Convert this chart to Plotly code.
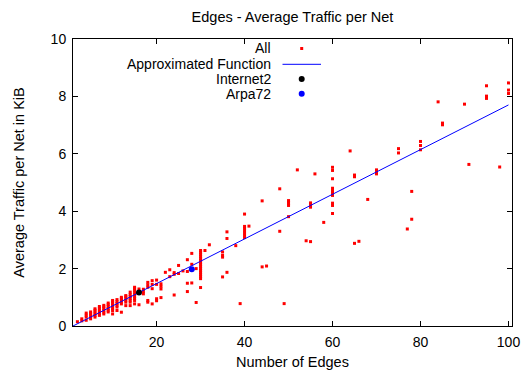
import plotly.graph_objects as go

# Measured nets: number of edges and the traffic values observed for each
edge_counts = [2, 3, 4, 5, 6, 7, 8, 9, 10, 11, 12, 13, 14, 15, 16, 17, 18, 19, 20, 21,
               22, 23, 24, 25, 26, 27, 28, 29, 30, 31, 32, 35, 36, 38, 39, 40, 41, 44, 45,
               48, 49, 50, 52, 54, 55, 56, 58, 60, 64, 65, 66, 68, 70, 75, 77, 78, 80,
               84, 85, 90, 91, 95, 98, 100]
traffic_by_edges = [
    [0.15],
    [0.18, 0.25],
    [0.2, 0.31, 0.38, 0.45],
    [0.25, 0.32, 0.38, 0.44, 0.49],
    [0.31, 0.37, 0.43, 0.49, 0.55, 0.6],
    [0.37, 0.43, 0.49, 0.56, 0.62, 0.68],
    [0.42, 0.48, 0.55, 0.61, 0.67, 0.72],
    [0.49, 0.55, 0.61, 0.68, 0.74, 0.8],
    [0.42, 0.54, 0.6, 0.66, 0.72, 0.78, 0.84, 0.89],
    [0.54, 0.66, 0.72, 0.79, 0.85, 0.92],
    [0.48, 0.77, 0.83, 0.89, 0.95, 1.0],
    [0.71, 0.83, 0.9, 0.96, 1.02, 1.06],
    [0.71, 0.83, 0.9, 0.96, 1.03, 1.1, 1.18],
    [0.77, 0.89, 0.96, 1.03, 1.1, 1.17, 1.24, 1.3, 1.35],
    [0.74, 1.29],
    [1.12, 1.2, 1.28],
    [0.83, 0.89, 1.35, 1.43, 1.52],
    [0.77, 1.3, 1.45, 1.58],
    [0.88, 0.95, 1.45, 1.6],
    [0.99, 1.29, 1.38, 1.47],
    [1.87],
    [1.72, 1.96],
    [1.08, 1.8, 1.86],
    [1.83, 2.11],
    [1.92],
    [1.2, 1.49, 1.9, 2.31],
    [1.5, 2.15, 2.53],
    [0.82, 2.0],
    [1.34, 1.65, 1.72, 1.79, 1.86, 1.93, 2.0, 2.07, 2.14, 2.21, 2.28, 2.35, 2.42,
     2.49, 2.56, 2.63],
    [2.63],
    [2.83],
    [1.71, 2.4, 2.46, 2.58],
    [1.87, 3.05, 3.28],
    [2.8],
    [0.78],
    [3.08, 3.16, 3.24, 3.32, 3.4, 3.47, 3.9],
    [3.48],
    [2.06, 4.36],
    [2.09],
    [3.3, 4.78],
    [0.78],
    [3.81, 4.2, 4.26, 4.32, 4.37],
    [5.44],
    [2.97],
    [2.94, 4.14, 4.22, 4.29],
    [5.3],
    [3.61],
    [3.92, 4.2, 4.28, 4.55, 4.6, 4.67, 4.72, 4.8, 5.13, 5.42, 5.53],
    [6.1],
    [2.88, 5.2, 5.26],
    [2.95],
    [4.41],
    [5.3, 5.38, 5.44],
    [6.03, 6.18],
    [3.38],
    [3.72, 4.69],
    [6.14, 6.29, 6.43],
    [7.81],
    [7.01, 7.07],
    [7.73],
    [5.63],
    [7.93, 8.01, 8.37],
    [5.54],
    [8.1, 8.22, 8.47],
]

# Highlighted networks
internet2_edges = [16]
internet2_traffic = [1.17]
arpa72_edges = [28]
arpa72_traffic = [1.98]

# Linear approximation of traffic per net
fit_slope = 0.0778
fit_intercept = -0.078
fit_x = [1, 100]

# Axis ticks
x_ticks = [20, 40, 60, 80, 100]
y_ticks = [0, 2, 4, 6, 8, 10]

all_x = [e for e, vals in zip(edge_counts, traffic_by_edges) for _ in vals]
all_y = [v for vals in traffic_by_edges for v in vals]
fit_y = [fit_slope * x + fit_intercept for x in fit_x]

FONT = "Liberation Sans, Arial, Helvetica, sans-serif"
RED = "#ff0000"
BLUE = "#0000ff"

fig = go.Figure()
fig.add_trace(go.Scatter(x=all_x, y=all_y, mode="markers", name="All",
                         marker=dict(color=RED, size=3, symbol="square")))
fig.add_trace(go.Scatter(x=fit_x, y=fit_y, mode="lines", name="Approximated Function",
                         line=dict(color=BLUE, width=1)))
fig.add_trace(go.Scatter(x=internet2_edges, y=internet2_traffic, mode="markers",
                         name="Internet2", marker=dict(color="black", size=6)))
fig.add_trace(go.Scatter(x=arpa72_edges, y=arpa72_traffic, mode="markers",
                         name="Arpa72", marker=dict(color=BLUE, size=6)))

# Plot area in pixels
W, H = 529, 374
L, R, T, B = 73, 17, 39, 48
pw, ph = W - L - R, H - T - B


def px(xpix):
    return (xpix - L) / pw


def py(ypix):
    return (H - B - ypix) / ph


# Key drawn at the upper right: labels right-aligned, samples on the right
key_labels = ["All", "Approximated Function", "Internet2", "Arpa72"]
key_rows = [48.5, 64.3, 79, 93.8]
annotations = []
shapes = []
for label, row in zip(key_labels, key_rows):
    annotations.append(dict(x=px(272), y=py(row), xref="paper", yref="paper",
                            text=label, showarrow=False, xanchor="right",
                            yanchor="middle", borderpad=0,
                            font=dict(family=FONT, size=14, color="black")))
sx = px(301.7)
shapes.append(dict(type="rect", xref="paper", yref="paper", xsizemode="pixel",
                   ysizemode="pixel", xanchor=sx, yanchor=py(key_rows[0]),
                   x0=-1.5, x1=1.5, y0=-1.5, y1=1.5, fillcolor=RED,
                   line=dict(width=0)))
shapes.append(dict(type="line", xref="paper", yref="paper", x0=px(282.5),
                   x1=px(321), y0=py(key_rows[1]), y1=py(key_rows[1]),
                   line=dict(color=BLUE, width=1)))
for row, color in [(key_rows[2], "black"), (key_rows[3], BLUE)]:
    shapes.append(dict(type="circle", xref="paper", yref="paper", xsizemode="pixel",
                       ysizemode="pixel", xanchor=sx, yanchor=py(row),
                       x0=-3, x1=3, y0=-3, y1=3, fillcolor=color,
                       line=dict(width=0)))

axis_common = dict(showline=True, linecolor="black", linewidth=1, mirror="allticks",
                   ticks="inside", ticklen=5, tickcolor="black", tickwidth=1,
                   showgrid=False, zeroline=False, automargin=False,
                   tickfont=dict(family=FONT, size=14, color="black"))

fig.update_layout(
    width=W, height=H,
    margin=dict(l=L, r=R, t=T, b=B),
    paper_bgcolor="white", plot_bgcolor="white",
    showlegend=False,
    title=dict(text="Edges - Average Traffic per Net", x=px(292.5), xref="paper",
               xanchor="center", y=(H - 17) / H, yanchor="middle",
               font=dict(family=FONT, size=14.5, color="black")),
    xaxis=dict(range=[1, 100.8], tickvals=x_ticks, ticklabelstandoff=3,
               title=dict(text="Number of Edges", standoff=8,
                          font=dict(family=FONT, size=14.5, color="black")),
               **axis_common),
    yaxis=dict(range=[0, 10], tickvals=y_ticks, ticklabelstandoff=3,
               title=dict(text="Average Traffic per Net in KiB", standoff=22,
                          font=dict(family=FONT, size=14.5, color="black")),
               **axis_common),
    annotations=annotations,
    shapes=shapes,
)

fig.write_html("out.html")
